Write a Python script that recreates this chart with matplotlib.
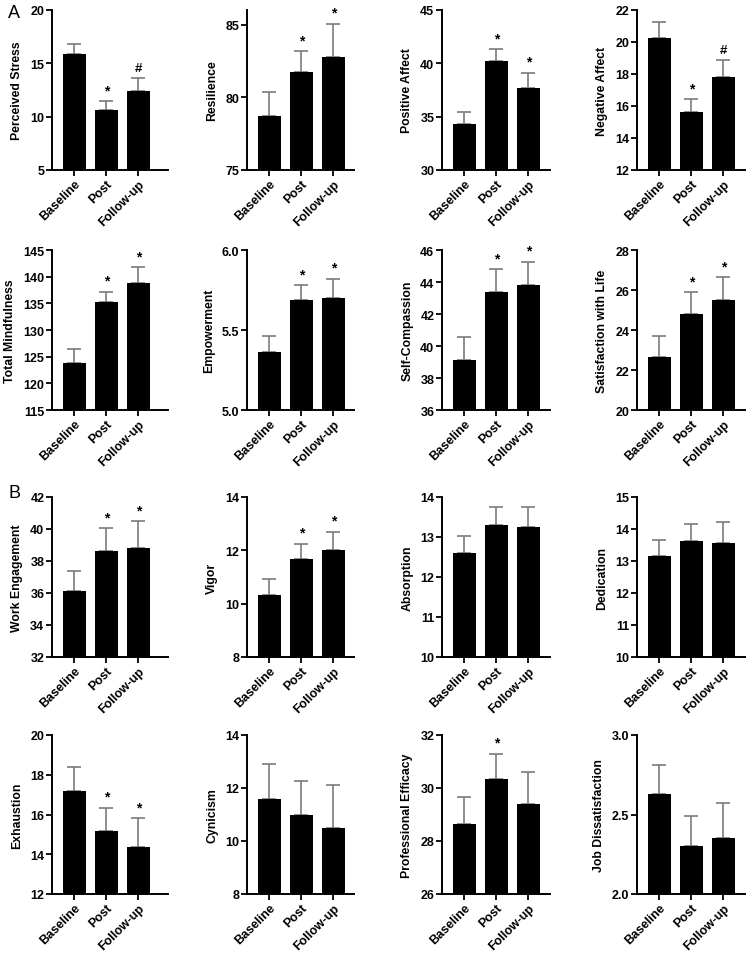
import matplotlib
matplotlib.use('Agg')

import matplotlib.pyplot as plt

plt.rcParams['font.family'] = ['Liberation Sans', 'DejaVu Sans']
plt.rcParams['font.weight'] = 'bold'

groups = ['Baseline', 'Post', 'Follow-up']

titles = [
    'Perceived Stress', 'Resilience', 'Positive Affect', 'Negative Affect',
    'Total Mindfulness', 'Empowerment', 'Self-Compassion', 'Satisfaction with Life',
    'Work Engagement', 'Vigor', 'Absorption', 'Dedication',
    'Exhaustion', 'Cynicism', 'Professional Efficacy', 'Job Dissatisfaction',
]

means = [
    [15.9, 10.6, 12.4], [78.7, 81.75, 82.8], [34.35, 40.25, 37.7], [20.25, 15.6, 17.8],
    [123.9, 135.2, 138.75], [5.36, 5.69, 5.70], [39.13, 43.4, 43.83], [22.67, 24.82, 25.52],
    [36.1, 38.63, 38.81], [10.31, 11.66, 12.02], [12.6, 13.31, 13.25], [13.16, 13.63, 13.56],
    [17.2, 15.15, 14.35], [11.6, 11.0, 10.5], [28.65, 30.35, 29.4], [2.63, 2.30, 2.35],
]

err_tops = [
    [16.85, 11.45, 13.65], [80.35, 83.15, 85.05], [35.45, 41.33, 39.14], [21.23, 16.43, 18.87],
    [126.5, 137.2, 141.8], [5.46, 5.78, 5.82], [40.56, 44.81, 45.27], [23.68, 25.88, 26.63],
    [37.38, 40.04, 40.5], [10.92, 12.25, 12.7], [13.03, 13.75, 13.76], [13.65, 14.16, 14.23],
    [18.4, 16.35, 15.8], [12.9, 12.25, 12.12], [29.65, 31.3, 30.62], [2.81, 2.49, 2.57],
]

ylims = [
    (5, 20), (75, 86), (30, 45), (12, 22),
    (115, 145), (5.0, 6.0), (36, 46), (20, 28),
    (32, 42), (8, 14), (10, 14), (10, 15),
    (12, 20), (8, 14), (26, 32), (2.0, 3.0),
]

yticks = [
    [5, 10, 15, 20], [75, 80, 85], [30, 35, 40, 45], [12, 14, 16, 18, 20, 22],
    [115, 120, 125, 130, 135, 140, 145], [5.0, 5.5, 6.0], [36, 38, 40, 42, 44, 46], [20, 22, 24, 26, 28],
    [32, 34, 36, 38, 40, 42], [8, 10, 12, 14], [10, 11, 12, 13, 14], [10, 11, 12, 13, 14, 15],
    [12, 14, 16, 18, 20], [8, 10, 12, 14], [26, 28, 30, 32], [2.0, 2.5, 3.0],
]

tick_fmt = ['{:g}'] * 16
tick_fmt[5] = '{:.1f}'
tick_fmt[15] = '{:.1f}'

marks = [
    ['', '*', '#'], ['', '*', '*'], ['', '*', '*'], ['', '*', '#'],
    ['', '*', '*'], ['', '*', '*'], ['', '*', '*'], ['', '*', '*'],
    ['', '*', '*'], ['', '*', '*'], ['', '', ''], ['', '', ''],
    ['', '*', '*'], ['', '', ''], ['', '*', ''], ['', '', ''],
]

W, H = 750, 954
col_x = [(52, 168), (247, 354), (442, 550), (637, 745)]
row_y = [(11, 171), (251, 411), (498, 658), (736, 895)]
SPACING = 32.0

fig = plt.figure(figsize=(W / 100, H / 100), dpi=100)

for k, title in enumerate(titles):
    r, c = divmod(k, 4)
    x0, x1 = col_x[c]
    y0, y1 = row_y[r]
    ax = fig.add_axes([x0 / W, 1 - y1 / H, (x1 - x0) / W, (y1 - y0) / H])

    xs = range(len(groups))
    m = means[k]
    up = [t - v for t, v in zip(err_tops[k], m)]
    ax.bar(xs, m, width=0.74, color='black', zorder=2)
    ax.errorbar(xs, m, yerr=[[0] * 3, up], fmt='none', ecolor='#7a7a7a',
                elinewidth=1.2, capsize=5, capthick=1.2, zorder=1)

    lo, hi = ylims[k]
    span = hi - lo
    for i, mk in enumerate(marks[k]):
        if mk:
            ax.text(i, err_tops[k][i] + span * 0.025, mk, ha='center', va='bottom',
                    fontsize=10 if mk == '*' else 9.5, fontweight='bold')

    ax.set_ylim(lo, hi)
    ax.set_yticks(yticks[k])
    ax.set_yticklabels([tick_fmt[k].format(t) for t in yticks[k]], fontsize=9, fontweight='bold')
    left = -0.5 * 0.74 - 10.5 / SPACING
    ax.set_xlim(left, left + (x1 - x0) / SPACING)
    ax.set_xticks(list(xs))
    ax.set_xticklabels(groups, rotation=45, ha='right', rotation_mode='anchor',
                       fontsize=9, fontweight='bold')
    ax.set_ylabel(title, fontsize=8.8, fontweight='bold', labelpad=5)

    for side in ('top', 'right'):
        ax.spines[side].set_visible(False)
    for side in ('left', 'bottom'):
        ax.spines[side].set_linewidth(1.4)
    ax.tick_params(axis='both', width=1.3, length=4, pad=1.5)
    ax.set_facecolor('none')

fig.text(8 / W, 1 - 14 / H, 'A', fontsize=13, fontweight='normal', va='center')
fig.text(8 / W, 1 - 494 / H, 'B', fontsize=13, fontweight='normal', va='center')

fig.savefig('out.png', dpi=100, facecolor='white')
